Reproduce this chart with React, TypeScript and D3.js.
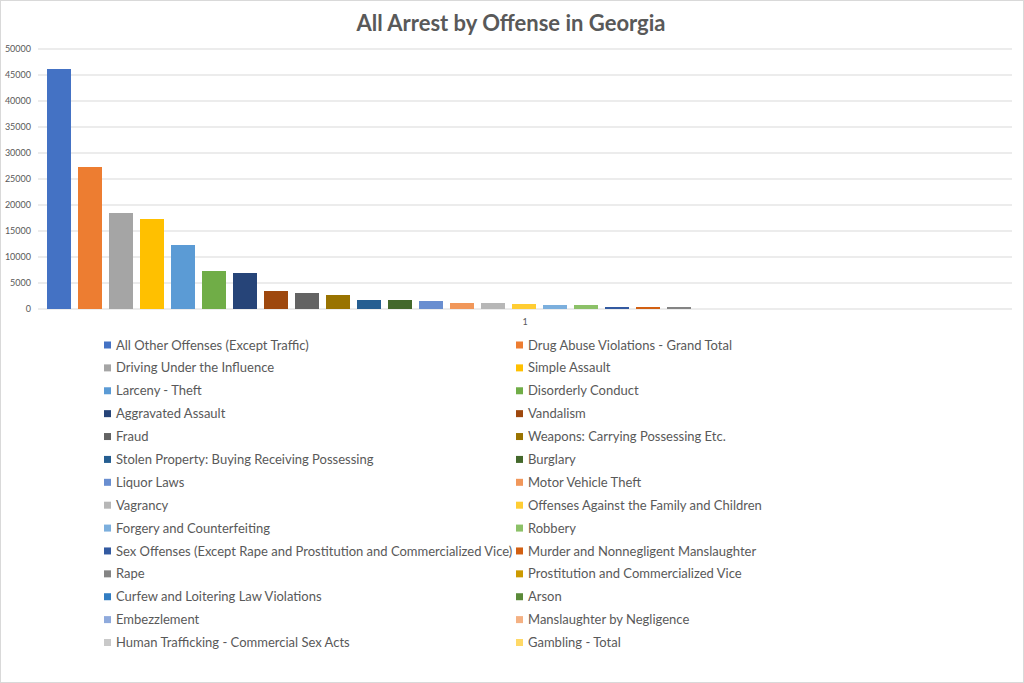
import React from 'react';
import * as d3 from 'd3';

// Offense categories, in the order Excel plotted them (one series each)
const OFFENSES: string[] = [
  'All Other Offenses (Except Traffic)',
  'Drug Abuse Violations - Grand Total',
  'Driving Under the Influence',
  'Simple Assault',
  'Larceny - Theft',
  'Disorderly Conduct',
  'Aggravated Assault',
  'Vandalism',
  'Fraud',
  'Weapons: Carrying Possessing Etc.',
  'Stolen Property: Buying Receiving Possessing',
  'Burglary',
  'Liquor Laws',
  'Motor Vehicle Theft',
  'Vagrancy',
  'Offenses Against the Family and Children',
  'Forgery and Counterfeiting',
  'Robbery',
  'Sex Offenses (Except Rape and Prostitution and Commercialized Vice)',
  'Murder and Nonnegligent Manslaughter',
  'Rape',
  'Prostitution and Commercialized Vice',
  'Curfew and Loitering Law Violations',
  'Arson',
  'Embezzlement',
  'Manslaughter by Negligence',
  'Human Trafficking - Commercial Sex Acts',
  'Gambling - Total',
];

// arrests (the last few are too small to see)
const ARRESTS: number[] = [
  46150, 27400, 18400, 17400, 12250, 7300, 6850, 3400, 3080, 2700, 1730, 1680, 1540, 1220,
  1200, 960, 780, 760, 460, 360, 340, 30, 25, 20, 15, 10, 5, 3,
];

const Y_TICKS: number[] = [0, 5000, 10000, 15000, 20000, 25000, 30000, 35000, 40000, 45000, 50000];

const CATEGORY_LABELS: string[] = ['1'];

// Office palette cycling through tints / shades
const PALETTE = [
  '#4472C4', '#ED7D31', '#A5A5A5', '#FFC000', '#5B9BD5', '#70AD47',
  '#264478', '#9E480E', '#636363', '#997300', '#255E91', '#43682B',
  '#698ED0', '#F1975A', '#B7B7B7', '#FFCD33', '#7CAFDD', '#8CC168',
  '#335AA1', '#D26012', '#848484', '#CC9A00', '#327DC2', '#5A8A39',
  '#8FAADC', '#F4B183', '#C9C9C9', '#FFD966',
];

const W = 1024;
const H = 683;
const FONT = 'Lato, "Liberation Sans", sans-serif';
const TEXT = '#595959';
const GRID = '#D9D9D9';

export default function App() {
  const plot = { left: 38, right: 1012, top: 49, bottom: 309 };

  const y = d3.scaleLinear().domain([0, 50000]).range([plot.bottom, plot.top]);
  const cat = d3.scaleBand().domain(CATEGORY_LABELS).range([plot.left, plot.right]);

  const x = d3
    .scaleBand()
    .domain(OFFENSES)
    .range([plot.left + 9, plot.left + 9 + OFFENSES.length * 31 - 6.5])
    .paddingInner(0.21)
    .paddingOuter(0);

  const legendRow = d3
    .scalePoint()
    .domain(d3.range(Math.ceil(OFFENSES.length / 2)).map(String))
    .range([345, 642.5]);
  const legendCol = [104, 516];

  return (
    <svg
      width={W}
      height={H}
      viewBox={`0 0 ${W} ${H}`}
      style={{ position: 'absolute', left: 0, top: 0, background: '#fff' }}
    >
      <rect x={0.5} y={0.5} width={W - 1} height={H - 1} fill="#fff" stroke="#D9D9D9" />

      <text
        x={511}
        y={31}
        textAnchor="middle"
        fill={TEXT}
        fontFamily={FONT}
        fontWeight={700}
        fontSize={22}
      >
        All Arrest by Offense in Georgia
      </text>

      {Y_TICKS.map((t) => (
        <g key={t}>
          <line
            x1={plot.left}
            x2={plot.right}
            y1={y(t)}
            y2={y(t)}
            stroke={GRID}
            strokeWidth={1}
          />
          <text
            x={31}
            y={y(t)}
            dy="0.35em"
            textAnchor="end"
            fill={TEXT}
            fontFamily={FONT}
            fontSize={9}
          >
            {t}
          </text>
        </g>
      ))}

      {OFFENSES.map((o, i) => (
        <rect
          key={o}
          x={x(o)}
          y={y(ARRESTS[i])}
          width={x.bandwidth()}
          height={plot.bottom - y(ARRESTS[i])}
          fill={PALETTE[i]}
          shapeRendering="crispEdges"
        />
      ))}

      {CATEGORY_LABELS.map((c) => (
        <text
          key={c}
          x={(cat(c) ?? 0) + cat.bandwidth() / 2}
          y={322}
          dy="0.35em"
          textAnchor="middle"
          fill={TEXT}
          fontFamily={FONT}
          fontSize={9}
        >
          {c}
        </text>
      ))}

      {OFFENSES.map((o, i) => {
        const row = legendRow(String(Math.floor(i / 2))) ?? 0;
        const col = legendCol[i % 2];
        return (
          <g key={o}>
            <rect x={col} y={row - 3.5} width={7} height={7} fill={PALETTE[i]} />
            <text
              x={col + 12}
              y={row}
              dy="0.35em"
              fill={TEXT}
              fontFamily={FONT}
              fontSize={13}
            >
              {o}
            </text>
          </g>
        );
      })}
    </svg>
  );
}
